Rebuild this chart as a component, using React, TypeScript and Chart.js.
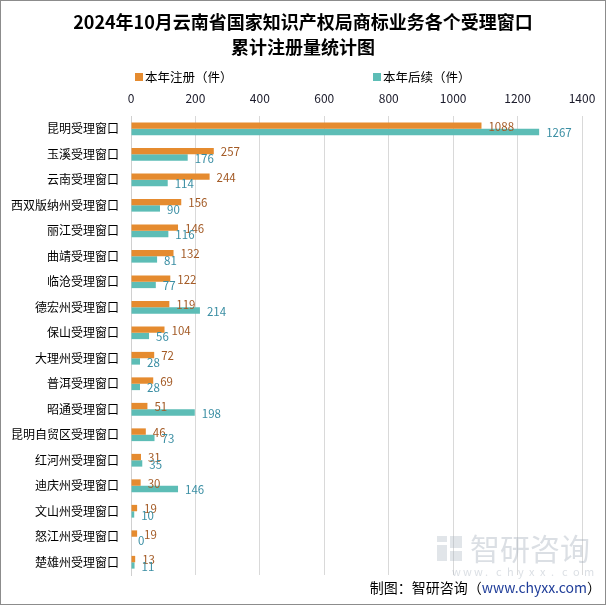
import React, { useEffect, useRef } from "react";
import { Chart, registerables } from "chart.js";

Chart.register(...registerables);

const categories = [
  "昆明受理窗口",
  "玉溪受理窗口",
  "云南受理窗口",
  "西双版纳州受理窗口",
  "丽江受理窗口",
  "曲靖受理窗口",
  "临沧受理窗口",
  "德宏州受理窗口",
  "保山受理窗口",
  "大理州受理窗口",
  "普洱受理窗口",
  "昭通受理窗口",
  "昆明自贸区受理窗口",
  "红河州受理窗口",
  "迪庆州受理窗口",
  "文山州受理窗口",
  "怒江州受理窗口",
  "楚雄州受理窗口",
];

const registerValues = [1088, 257, 244, 156, 146, 132, 122, 119, 104, 72, 69, 51, 46, 31, 30, 19, 19, 13];
const renewalValues = [1267, 176, 114, 90, 116, 81, 77, 214, 56, 28, 28, 198, 73, 35, 146, 10, 0, 11];

const seriesNames = ["本年注册（件）", "本年后续（件）"];
const titleLines = ["2024年10月云南省国家知识产权局商标业务各个受理窗口", "累计注册量统计图"];
const xTicks = [0, 200, 400, 600, 800, 1000, 1200, 1400];

const ORANGE = "#E58B2F";
const TEAL = "#5DBDB6";
const ORANGE_LABEL = "#A35A25";
const TEAL_LABEL = "#3A8EA3";
const CJK = '"Noto Sans CJK SC", "Microsoft YaHei", sans-serif';

const decorPlugin = {
  id: "decor",
  afterDatasetsDraw(chart: any) {
    const ctx = chart.ctx as CanvasRenderingContext2D;
    ctx.save();
    ctx.font = `11.5px ${CJK}`;
    ctx.textAlign = "left";
    ctx.textBaseline = "middle";
    chart.data.datasets.forEach((ds: any, di: number) => {
      const meta = chart.getDatasetMeta(di);
      ctx.fillStyle = di === 0 ? ORANGE_LABEL : TEAL_LABEL;
      meta.data.forEach((bar: any, i: number) => {
        ctx.fillText(String(ds.data[i]), bar.x + 7, bar.y + 1);
      });
    });
    ctx.restore();
  },
  afterDraw(chart: any) {
    const ctx = chart.ctx as CanvasRenderingContext2D;
    const w = chart.width;
    const h = chart.height;
    ctx.save();
    // title
    ctx.fillStyle = "#000";
    ctx.textAlign = "center";
    ctx.textBaseline = "middle";
    ctx.font = `bold 18px ${CJK}`;
    ctx.fillText(titleLines[0], 303, 22);
    ctx.fillText(titleLines[1], 303, 47);
    // legend
    ctx.font = `12.5px ${CJK}`;
    ctx.textAlign = "left";
    const legendX = [135, 373];
    [ORANGE, TEAL].forEach((c, i) => {
      ctx.fillStyle = c;
      ctx.fillRect(legendX[i], 73, 8, 8);
      ctx.fillStyle = "#000";
      ctx.fillText(seriesNames[i], legendX[i] + 10, 77);
    });
    // watermark
    ctx.fillStyle = "rgba(170,180,192,0.35)";
    ctx.fillRect(437, 536, 10, 6);
    ctx.fillRect(437, 545, 10, 16);
    ctx.fillRect(450, 536, 12, 12);
    ctx.fillRect(450, 551, 12, 10);
    ctx.font = `30px ${CJK}`;
    ctx.fillStyle = "rgba(165,175,188,0.4)";
    ctx.textAlign = "left";
    ctx.fillText("智研咨询", 470, 549);
    ctx.font = `11px ${CJK}`;
    const wm = "www.chyxx.com";
    for (let i = 0; i < wm.length; i++) {
      ctx.fillText(wm[i], 452 + i * 11, 572);
    }
    // footer
    ctx.font = `14px ${CJK}`;
    ctx.textBaseline = "middle";
    const p1 = "制图：智研咨询（";
    const p2 = "www.chyxx.com";
    const p3 = "）";
    const w1 = ctx.measureText(p1).width;
    const w2 = ctx.measureText(p2).width;
    const w3 = ctx.measureText(p3).width;
    let x = 601 - (w1 + w2 + w3);
    ctx.fillStyle = "#000";
    ctx.fillText(p1, x, 588);
    x += w1;
    ctx.fillStyle = "#1F3D99";
    ctx.fillText(p2, x, 588);
    x += w2;
    ctx.fillStyle = "#000";
    ctx.fillText(p3, x, 588);
    // border
    ctx.strokeStyle = "#8C8C8C";
    ctx.lineWidth = 1;
    ctx.strokeRect(0.5, 0.5, w - 1, h - 1);
    ctx.restore();
  },
};

export default function App() {
  const canvasRef = useRef<HTMLCanvasElement | null>(null);

  useEffect(() => {
    document.body.style.margin = "0";
    const canvas = canvasRef.current;
    if (!canvas) return;
    const chart = new Chart(canvas, {
      type: "bar",
      data: {
        labels: categories,
        datasets: [
          {
            label: seriesNames[0],
            data: registerValues,
            backgroundColor: ORANGE,
            categoryPercentage: 0.5,
            barPercentage: 1,
          },
          {
            label: seriesNames[1],
            data: renewalValues,
            backgroundColor: TEAL,
            categoryPercentage: 0.5,
            barPercentage: 1,
          },
        ],
      },
      options: {
        indexAxis: "y",
        animation: false,
        responsive: true,
        maintainAspectRatio: false,
        layout: { padding: { top: 86, right: 24, bottom: 30, left: 0 } },
        plugins: {
          legend: { display: false },
          title: { display: false },
          tooltip: { enabled: false },
        },
        scales: {
          x: {
            position: "top",
            min: 0,
            max: 1400,
            afterBuildTicks(scale: any) {
              scale.ticks = xTicks.map((v) => ({ value: v }));
            },
            afterFit(scale: any) {
              scale.height = 30;
            },
            grid: { color: "#D9D9D9", drawTicks: false },
            border: { display: false },
            ticks: {
              padding: 10,
              color: "#1a1a2a",
              font: { size: 12, family: CJK },
              callback: (v: any) => String(v),
            },
          },
          y: {
            afterFit(scale: any) {
              scale.width = 131;
            },
            grid: { display: false, drawTicks: false },
            border: { display: true, color: "#D0D0D0" },
            ticks: {
              padding: 12,
              color: "#000",
              autoSkip: false,
              font: { size: 12, family: CJK },
            },
          },
        },
      },
      plugins: [decorPlugin],
    } as any);
    return () => chart.destroy();
  }, []);

  return (
    <div style={{ position: "absolute", left: 0, top: 0, width: 606, height: 605, background: "#fff" }}>
      <canvas ref={canvasRef} />
    </div>
  );
}
